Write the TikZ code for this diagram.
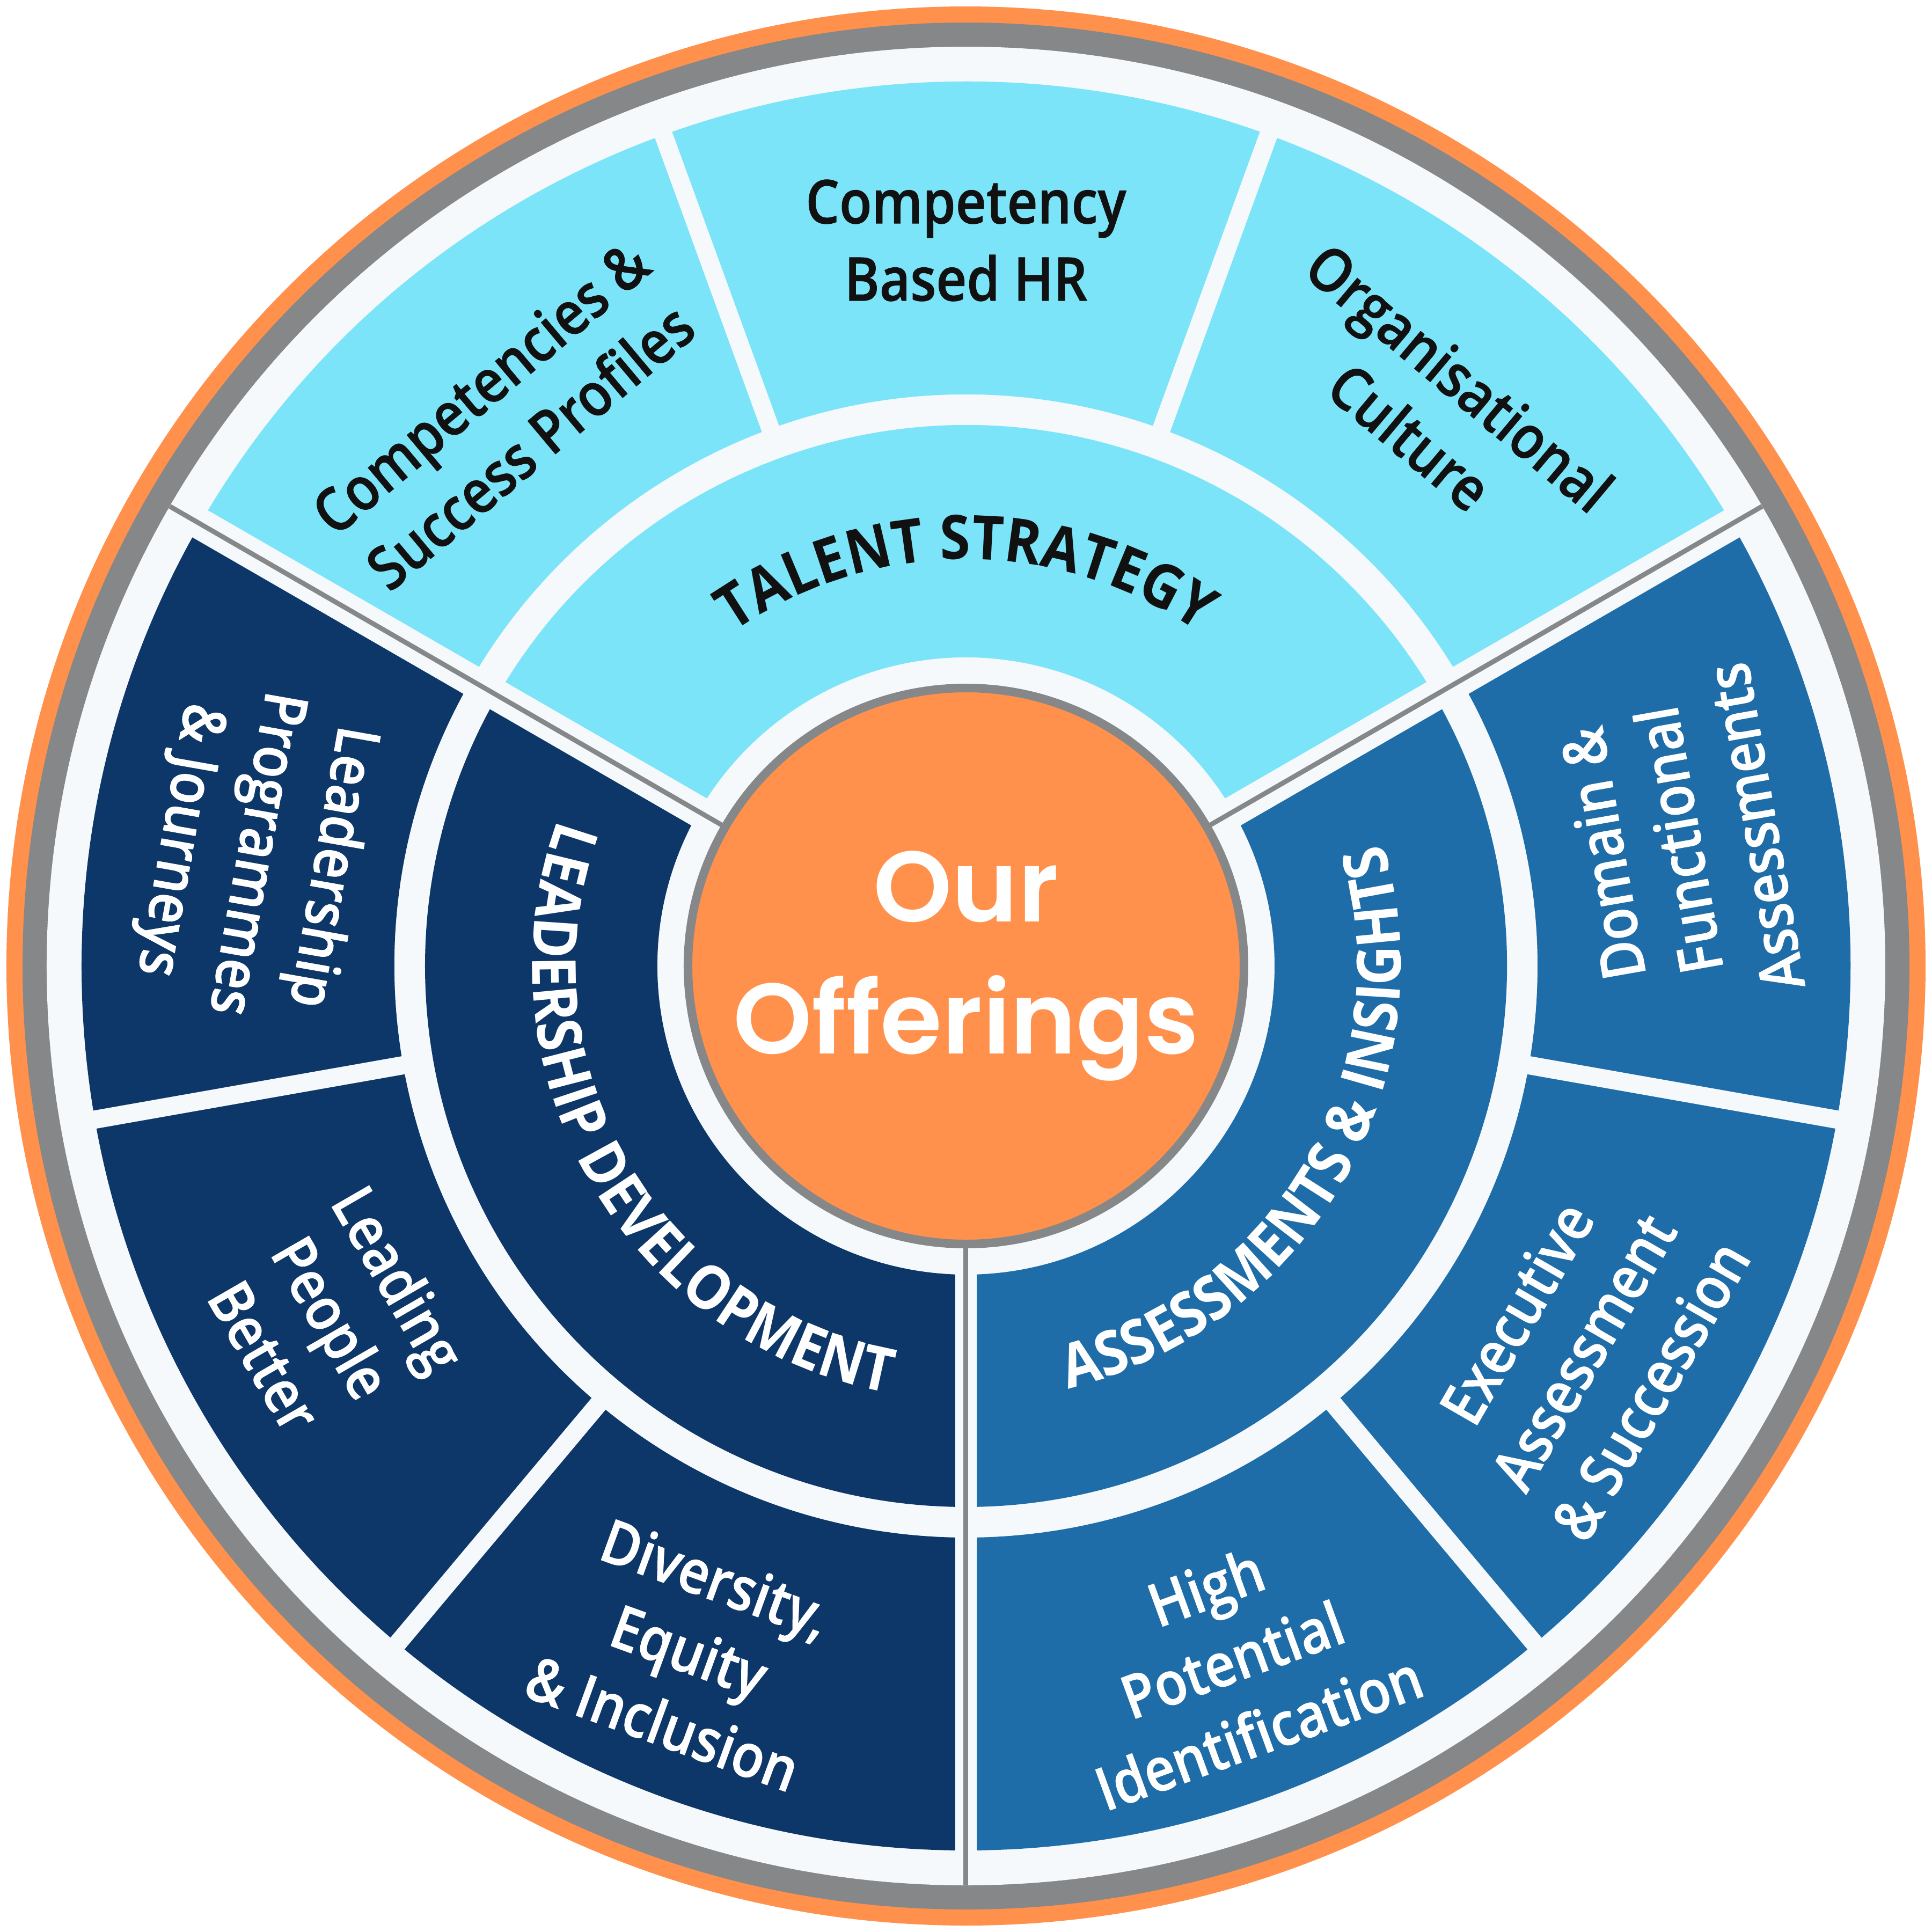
\documentclass[tikz,border=0pt]{standalone}
\usepackage{fontspec}
\setmainfont{Open Sans}
\IfFontExistsTF{Open Sans SemiBold}{\newfontfamily\lblfam{Open Sans SemiBold}[FakeStretch=0.88, FakeBold=0.8]\newcommand\lblfont{\lblfam}}{%
  \IfFontExistsTF{Open Sans Semibold}{\newfontfamily\lblfam{Open Sans Semibold}[FakeStretch=0.88, FakeBold=0.8]\newcommand\lblfont{\lblfam}}{%
    \IfFontExistsTF{Open Sans Medium}{\newfontfamily\lblfam{Open Sans Medium}[FakeStretch=0.88, FakeBold=1]\newcommand\lblfont{\lblfam}}{%
      \newfontfamily\lblfam{Open Sans}[FakeStretch=0.86]\newcommand\lblfont{\lblfam\bfseries}}}}
\IfFontExistsTF{Poppins SemiBold}{\newfontfamily\hubfam{Poppins SemiBold}\newcommand\hubfont{\hubfam}}{\newfontfamily\hubfam{Poppins}\newcommand\hubfont{\hubfam\bfseries}}
\newfontfamily\ringfam{Open Sans}[FakeStretch=0.9]
\newcommand\ringfont{\ringfam\bfseries\fontsize{16.2}{20}\selectfont}
\usetikzlibrary{decorations.text}

\definecolor{rimorange}{HTML}{FF914D}
\definecolor{rimgrey}{HTML}{858789}
\definecolor{paper}{HTML}{F6F9FB}
\definecolor{talentcyan}{HTML}{7BE4F8}
\definecolor{leadnavy}{HTML}{0C3768}
\definecolor{assessblue}{HTML}{1F6DA8}
\definecolor{inktext}{HTML}{111111}

\begin{document}
\begin{tikzpicture}[
  lbl/.style={font=\lblfont\fontsize{16}{20.5}\selectfont, align=center, inner sep=0pt},
  gap/.style={draw=paper, line width=0.17cm},
  seam/.style={draw=paper, line width=0.29cm},
  seamline/.style={draw=rimgrey, line width=0.045cm}
]
\useasboundingbox (-9,-9) rectangle (9,9);

% Draw rim
\fill[rimorange] (0,0) circle (8.94);
\fill[rimgrey] (0,0) circle (8.79);
\fill[paper] (0,0) circle (8.565);

% Talent strategy sector
\fill[talentcyan] (30:5.325) arc[start angle=30, end angle=150, radius=5.325] -- (150:8.24) arc[start angle=150, end angle=30, radius=8.24] -- cycle;
\fill[talentcyan] (30:2.875) arc[start angle=30, end angle=150, radius=2.875] -- (150:5.04) arc[start angle=150, end angle=30, radius=5.04] -- cycle;

% Leadership development sector
\fill[leadnavy] (150:5.325) arc[start angle=150, end angle=270, radius=5.325] -- (270:8.24) arc[start angle=270, end angle=150, radius=8.24] -- cycle;
\fill[leadnavy] (150:2.875) arc[start angle=150, end angle=270, radius=2.875] -- (270:5.04) arc[start angle=270, end angle=150, radius=5.04] -- cycle;

% Assessments sector
\fill[assessblue] (270:5.325) arc[start angle=270, end angle=390, radius=5.325] -- (390:8.24) arc[start angle=390, end angle=270, radius=8.24] -- cycle;
\fill[assessblue] (270:2.875) arc[start angle=270, end angle=390, radius=2.875] -- (390:5.04) arc[start angle=390, end angle=270, radius=5.04] -- cycle;

% Gaps between outer segments
\draw[gap] (70:5.2) -- (70:8.4);
\draw[gap] (110:5.2) -- (110:8.4);
\draw[gap] (190:5.2) -- (190:8.4);
\draw[gap] (230:5.2) -- (230:8.4);
\draw[gap] (310:5.2) -- (310:8.4);
\draw[gap] (350:5.2) -- (350:8.4);

% Seams between sectors
\draw[seam] (30:2.7) -- (30:8.5);
\draw[seam] (150:2.7) -- (150:8.5);
\draw[seam, line width=0.2cm] (270:2.7) -- (270:8.5);
\draw[seamline] (30:2.6) -- (30:8.565);
\draw[seamline] (150:2.6) -- (150:8.565);
\draw[seamline] (270:2.6) -- (270:8.565);

% Hub
\node[circle, fill=rimorange, draw=rimgrey, line width=0.08cm, minimum size=5.18cm, inner sep=0pt,
  text=white, align=center, font=\hubfont\fontsize{26.5}{35}\selectfont] (hub) at (0,0) {Our\\Offerings};

% Ring titles
\path[decorate, decoration={text along path, text align=center, text color=inktext,
  text={|\ringfont|TALENT STRATEGY}}] (150:3.79) arc[start angle=150, end angle=30, radius=3.79];
\path[decorate, decoration={text along path, text align=center, text color=white,
  text={|\ringfont|LEADERSHIP DEVELOPMENT}}] (150:4.04) arc[start angle=150, end angle=270, radius=4.04];
\path[decorate, decoration={text along path, text align=center, text color=white,
  text={|\ringfont|ASSESSMENTS {\&} INSIGHTS}}] (270:4.05) arc[start angle=270, end angle=390, radius=4.05];

% Outer labels
\node[lbl, text=inktext, rotate=40] (compet) at (130:6.68) {Competencies \&\\Success Profiles};
\node[lbl, text=inktext] (cbhr) at (90:6.76) {Competency\\Based HR};
\node[lbl, text=inktext, rotate=-40] (orgcult) at (50:6.8) {Organisational\\Culture};
\node[lbl, text=white, rotate=-100] (ldprog) at (171:6.72) {Leadership\\Programmes\\\& Journeys};
\node[lbl, text=white, rotate=-60] (leadpeople) at (209:6.75) {Leading\\People\\Better};
\node[lbl, text=white, rotate=-20] (dei) at (248:6.88) {Diversity,\\Equity\\\& Inclusion};
\node[lbl, text=white, rotate=20] (hipo) at (291:6.92) {High\\Potential\\Identification};
\node[lbl, text=white, rotate=60] (exec) at (328:6.78) {Executive\\Assessment\\\& Succession};
\node[lbl, text=white, rotate=100] (domain) at (10:6.74) {Domain \&\\Functional\\Assessments};

\end{tikzpicture}
\end{document}
